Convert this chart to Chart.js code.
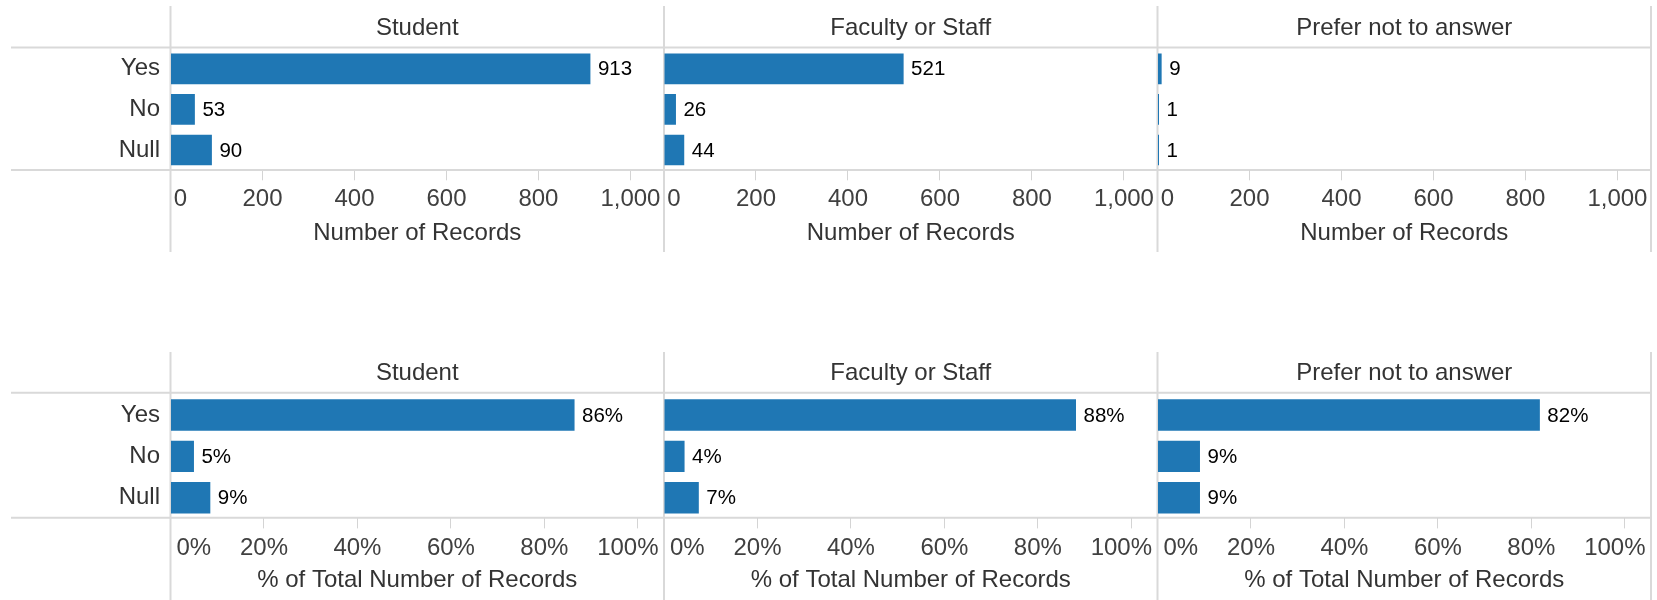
<!DOCTYPE html>
<html>
<head>
<meta charset="utf-8">
<script src="https://cdn.jsdelivr.net/npm/chart.js@4.4.1/dist/chart.umd.min.js"></script>
<style>
  html, body { margin: 0; padding: 0; background: #fff; overflow: hidden; }
  #wrap { position: relative; width: 1657px; height: 600px; }
  #wrap canvas { position: absolute; left: 0; }
</style>
</head>
<body>
<div id="wrap"></div>
<script>
// ---------- data ----------
const answers = ['Yes', 'No', 'Null'];
const groups = ['Student', 'Faculty or Staff', 'Prefer not to answer'];

const studentCounts = [913, 53, 90];
const facultyCounts = [521, 26, 44];
const preferCounts  = [9, 1, 1];

const studentPct = [86.46, 5.02, 8.52];
const facultyPct = [88.16, 4.40, 7.45];
const preferPct  = [81.82, 9.09, 9.09];

const countTicks = [0, 200, 400, 600, 800, 1000];
const countTickLabels = ['   0', '200', '400', '600', '800', '1,000'];
const pctTicks = [0, 20, 40, 60, 80, 100];
const pctTickLabels = ['       0%', '20%', '40%', '60%', '80%', '100%   '];

const countTitle = 'Number of Records';
const pctTitle = '% of Total Number of Records';

// ---------- layout ----------
const W = 1657, H = 300;
const panelX = [170.5, 664, 1157.5, 1651];
const FONT = "'Liberation Sans', Arial, sans-serif";
const TXT = 24;
const LINE = '#d9d9d9';
const BAR = '#1f77b4';

const rows = [
  {
    top: 0, values: [studentCounts, facultyCounts, preferCounts], max: 1073,
    ticks: countTicks, tickLabels: countTickLabels, title: countTitle,
    fmt: v => String(v),
    layoutTop: 0, titlePad: { top: 13.6, bottom: 6.1 }, areaBottom: 170.3,
    tickPad: 4.5, axisH: 77.0, barPct: 0.755,
    lineTop: 6, lineBottom: 252, headerLine: 47.5, axisLine: 170
  },
  {
    top: 300, values: [studentPct, facultyPct, preferPct], max: 105.6,
    ticks: pctTicks, tickLabels: pctTickLabels, title: pctTitle,
    fmt: v => Math.round(v) + '%',
    layoutTop: 45, titlePad: { top: 13.5, bottom: 7.0 }, areaBottom: 218.4,
    tickPad: 5.1, axisH: 76.4, barPct: 0.76,
    lineTop: 52, lineBottom: 300, headerLine: 92.7, axisLine: 217.7
  }
];

function framePlugin(row, p) {
  return {
    id: 'frame',
    beforeDatasetsDraw(chart) {
      const ctx = chart.ctx;
      ctx.save();
      ctx.strokeStyle = LINE;
      ctx.lineWidth = 2;
      ctx.beginPath();
      ctx.moveTo(panelX[p], row.lineTop); ctx.lineTo(panelX[p], row.lineBottom);
      if (p === 2) { ctx.moveTo(panelX[3], row.lineTop); ctx.lineTo(panelX[3], row.lineBottom); }
      if (p === 0) {
        ctx.moveTo(11, row.headerLine); ctx.lineTo(panelX[3] + 1, row.headerLine);
        ctx.moveTo(11, row.axisLine); ctx.lineTo(panelX[3] + 1, row.axisLine);
      }
      ctx.stroke();
      ctx.restore();
    }
  };
}

function labelPlugin(row) {
  return {
    id: 'vals',
    afterDatasetsDraw(chart) {
      const ctx = chart.ctx;
      const meta = chart.getDatasetMeta(0);
      const data = chart.data.datasets[0].data;
      ctx.save();
      ctx.font = '20.5px ' + FONT;
      ctx.fillStyle = '#000';
      ctx.textBaseline = 'middle';
      ctx.textAlign = 'left';
      meta.data.forEach((bar, i) => ctx.fillText(row.fmt(data[i]), bar.x + 7.5, bar.y + 1));
      ctx.restore();
    }
  };
}

const wrap = document.getElementById('wrap');

function makeChart(row, p) {
  const c = document.createElement('canvas');
  c.width = W; c.height = H;
  c.style.top = row.top + 'px';
  wrap.appendChild(c);
  const left = panelX[p], right = panelX[p + 1];
  new Chart(c, {
    type: 'bar',
    data: {
      labels: answers,
      datasets: [{
        data: row.values[p], backgroundColor: BAR,
        barPercentage: row.barPct, categoryPercentage: 1, minBarLength: 1.5
      }]
    },
    options: {
      indexAxis: 'y', responsive: false, animation: false, devicePixelRatio: 1,
      layout: { padding: { left: p === 0 ? 0 : left, right: W - right, top: row.layoutTop, bottom: H - row.areaBottom - row.axisH } },
      plugins: {
        legend: { display: false },
        tooltip: { enabled: false },
        title: {
          display: true, text: groups[p], fullSize: false, color: '#333',
          font: { family: FONT, size: TXT, weight: 'normal' }, padding: row.titlePad
        }
      },
      scales: {
        x: {
          type: 'linear', min: 0, max: row.max, position: 'bottom',
          afterBuildTicks: s => { s.ticks = row.ticks.map(v => ({ value: v })); },
          afterFit: s => { s.height = row.axisH; s.paddingLeft = 0; s.paddingRight = 0; s.paddingTop = 0; s.paddingBottom = 0; },
          ticks: {
            autoSkip: false, maxRotation: 0, minRotation: 0, padding: row.tickPad, color: '#404040',
            font: { family: FONT, size: TXT }, callback: (v, i) => row.tickLabels[i]
          },
          grid: { drawOnChartArea: false, drawTicks: true, tickLength: 10, color: '#d4d4d4', lineWidth: 1 },
          border: { display: false },
          title: { display: true, text: row.title, color: '#333', font: { family: FONT, size: TXT }, padding: 0 }
        },
        y: {
          type: 'category', display: p === 0, position: 'left',
          afterFit: s => { if (p === 0) s.width = left; s.paddingTop = 0; s.paddingBottom = 0; s.paddingLeft = 0; s.paddingRight = 0; },
          ticks: { padding: 10.5, color: '#333', font: { family: FONT, size: TXT } },
          grid: { display: false, drawTicks: false },
          border: { display: false }
        }
      }
    },
    plugins: [framePlugin(row, p), labelPlugin(row)]
  });
}

rows.forEach(row => { for (let p = 0; p < 3; p++) makeChart(row, p); });
</script>
</body>
</html>
